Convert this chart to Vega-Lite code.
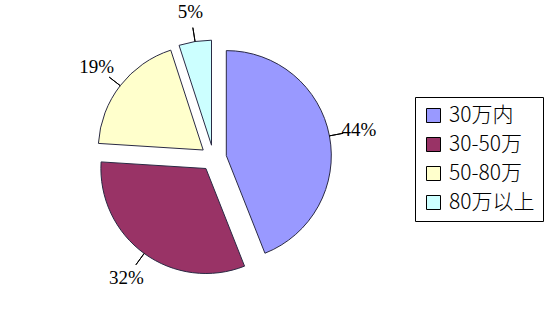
{
  "$schema": "https://vega.github.io/schema/vega-lite/v6.json",
  "width": 427,
  "height": 316,
  "autosize": "none",
  "padding": {"left": 0, "top": 0, "right": 121, "bottom": 0},
  "background": "white",
  "config": {
    "view": {"stroke": null},
    "legend": {
      "orient": "none",
      "legendX": 415,
      "legendY": 97,
      "padding": 8,
      "strokeColor": "black",
      "fillColor": "white",
      "symbolType": "square",
      "symbolSize": 196,
      "symbolStrokeColor": "black",
      "symbolStrokeWidth": 1,
      "labelFont": "Noto Sans CJK SC",
      "labelFontSize": 21,
      "labelFontWeight": 300,
      "labelColor": "black",
      "labelOffset": 5,
      "rowPadding": 7,
      "labelLimit": 300
    }
  },
  "data": {
    "values": [
      {"category": "30万内", "share": 0.44, "order": 1},
      {"category": "30-50万", "share": 0.32, "order": 2},
      {"category": "50-80万", "share": 0.19, "order": 3},
      {"category": "80万以上", "share": 0.05, "order": 4}
    ]
  },
  "transform": [
    {"stack": "share", "groupby": [], "sort": [{"field": "order", "order": "ascending"}], "as": ["t0", "t1"]}
  ],
  "encoding": {
    "theta": {"field": "t0", "type": "quantitative", "scale": {"domain": [0, 1]}}
  },
  "layer": [
    {
      "transform": [{"filter": "datum.order == 1"}],
      "mark": {"type": "arc", "radius": 105, "xOffset": 12.8, "yOffset": -2.4, "stroke": "#2a2a44", "strokeWidth": 1},
      "encoding": {
        "theta2": {"field": "t1"},
        "color": {"field": "category", "type": "nominal", "title": null,
          "scale": {"domain": ["30万内", "30-50万", "50-80万", "80万以上"], "range": ["#9999FF", "#993366", "#FFFFCC", "#CCFFFF"]}}
      }
    },
    {
      "transform": [{"filter": "datum.order == 2"}],
      "mark": {"type": "arc", "radius": 105, "xOffset": -7.6, "yOffset": 10.5, "stroke": "#2a2a44", "strokeWidth": 1},
      "encoding": {
        "theta2": {"field": "t1"},
        "color": {"field": "category", "type": "nominal", "title": null}
      }
    },
    {
      "transform": [{"filter": "datum.order == 3"}],
      "mark": {"type": "arc", "radius": 105, "xOffset": -10.3, "yOffset": -8, "stroke": "#2a2a44", "strokeWidth": 1},
      "encoding": {
        "theta2": {"field": "t1"},
        "color": {"field": "category", "type": "nominal", "title": null}
      }
    },
    {
      "transform": [{"filter": "datum.order == 4"}],
      "mark": {"type": "arc", "radius": 105, "xOffset": -2, "yOffset": -12.8, "stroke": "#2a2a44", "strokeWidth": 1},
      "encoding": {
        "theta2": {"field": "t1"},
        "color": {"field": "category", "type": "nominal", "title": null}
      }
    },
    {
      "transform": [
        {"fold": ["t0", "t1"], "as": ["edge", "tv"]},
        {"aggregate": [{"op": "mean", "field": "tv", "as": "mid"}], "groupby": ["category", "share", "order"]}
      ],
      "encoding": {
        "theta": {"field": "mid", "type": "quantitative", "scale": {"domain": [0, 1]}}
      },
      "layer": [
        {
          "mark": {"type": "arc", "radius": 132, "radius2": 118, "fill": null, "stroke": "black", "strokeWidth": 1},
          "encoding": {"theta2": {"field": "mid"}}
        },
        {
          "mark": {"type": "text", "radius": 148, "font": "Liberation Serif", "fontSize": 19, "fill": "black", "align": "center", "baseline": "middle"},
          "encoding": {"text": {"field": "share", "type": "quantitative", "format": ".0%"}}
        }
      ]
    }
  ]
}
